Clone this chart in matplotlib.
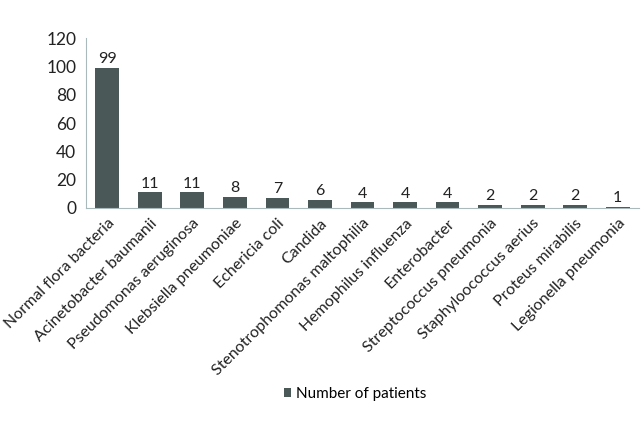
import numpy as np
import matplotlib
matplotlib.use('Agg')
import matplotlib.pyplot as plt

plt.rcParams['font.family'] = ['Lato', 'DejaVu Sans']

organisms = ['Normal flora bacteria', 'Acinetobacter baumanii', 'Pseudomonas aeruginosa',
             'Klebsiella pneumoniae', 'Echericia coli', 'Candida',
             'Stenotrophomonas maltophilia', 'Hemophilus influenza', 'Enterobacter',
             'Streptococcus pneumonia', 'Staphyloococcus aerius', 'Proteus mirabilis',
             'Legionella pneumonia']
patients = [99, 11, 11, 8, 7, 6, 4, 4, 4, 2, 2, 2, 1]
yticks = [0, 20, 40, 60, 80, 100, 120]

bar_color = '#4a5858'
axis_color = '#a9b9bc'

fig = plt.figure(figsize=(6.42, 4.30), dpi=100)
ax = fig.add_axes([86 / 642, 1 - 208 / 430, (639 - 86) / 642, (208 - 38) / 430])

x = np.arange(len(organisms))
bars = ax.bar(x, patients, width=0.56, color=bar_color, label='Number of patients')
for xi, v in zip(x, patients):
    ax.text(xi, v + 1.2, str(v), ha='center', va='bottom', fontsize=11.5, color='#222222')

ax.set_xlim(-0.5, len(organisms) - 0.5)
ax.set_ylim(0, 120)
ax.set_yticks(yticks)
ax.set_xticks(x)
ax.set_xticklabels(organisms, rotation=45, ha='right', rotation_mode='anchor', fontsize=11.5)
ax.tick_params(axis='y', length=0, labelsize=12.5, colors='#222222', pad=7)
ax.tick_params(axis='x', length=0, colors='#222222', pad=6)

for s in ['top', 'right']:
    ax.spines[s].set_visible(False)
ax.spines['left'].set_color(axis_color)
ax.spines['bottom'].set_color(axis_color)

fig.legend(handles=[bars], labels=['Number of patients'], loc='center',
           bbox_to_anchor=(355 / 642, 1 - 394 / 430), frameon=False, fontsize=11,
           handlelength=0.5, handleheight=0.5, handletextpad=0.3)

fig.savefig('out.png', dpi=100)
